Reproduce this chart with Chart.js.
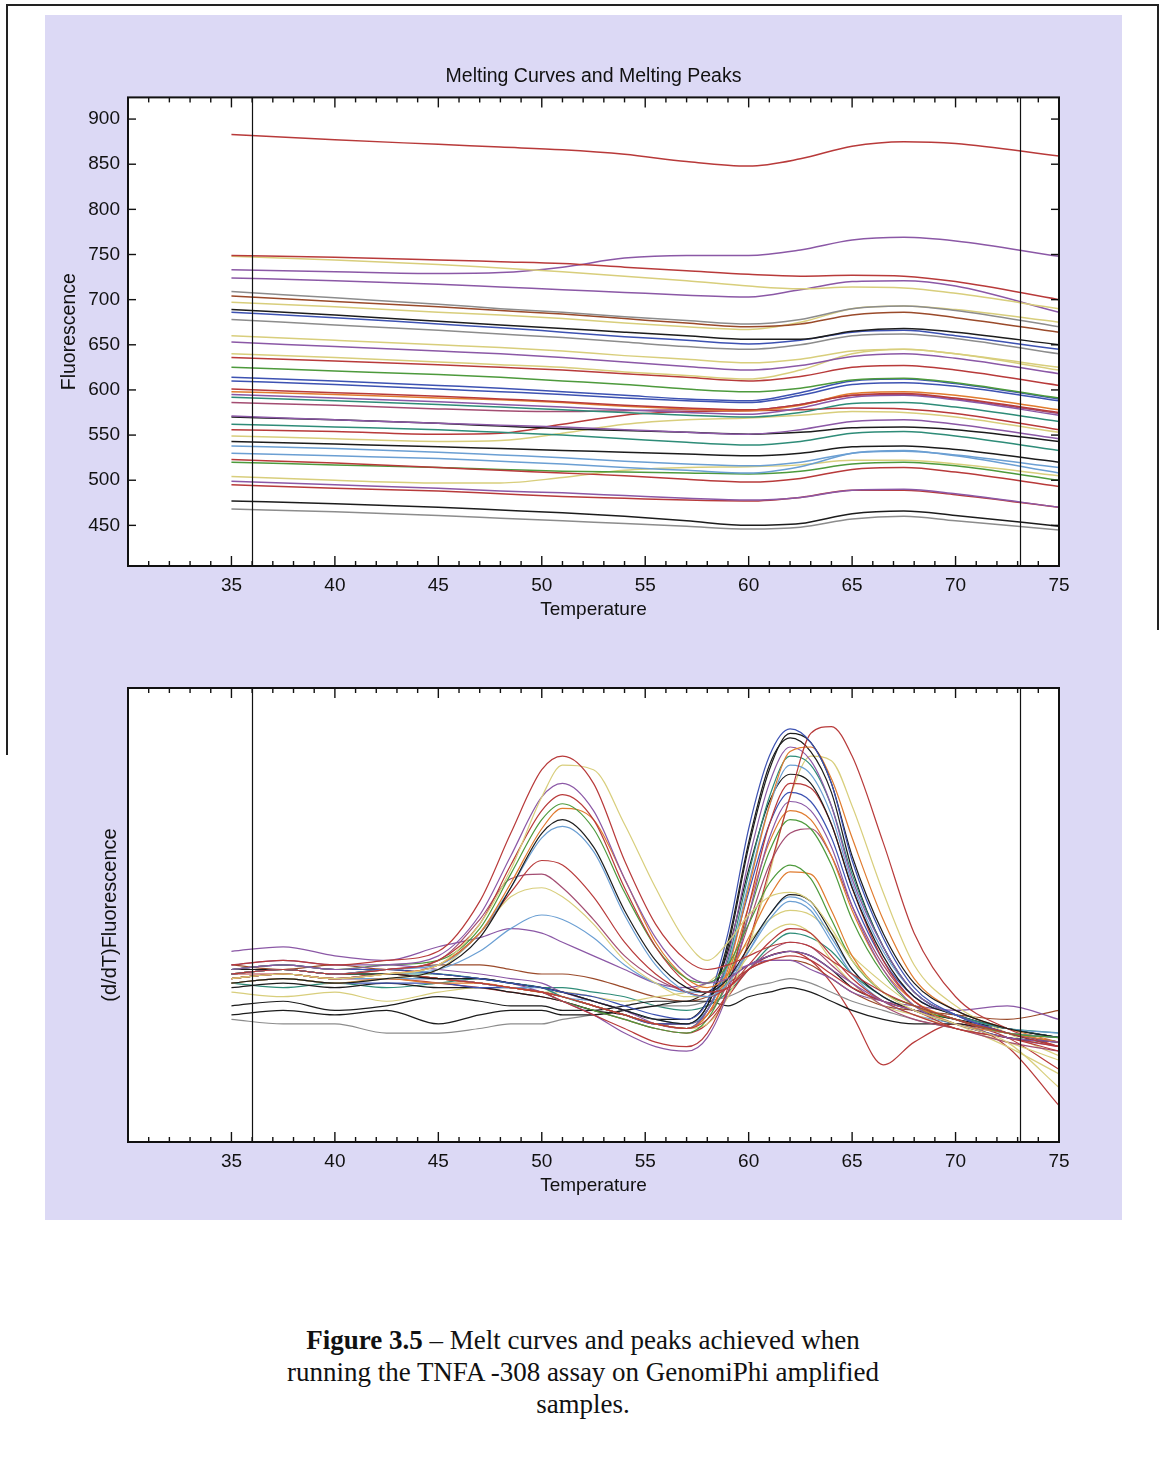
<!DOCTYPE html>
<html>
<head>
<meta charset="utf-8">
<script src="https://cdn.jsdelivr.net/npm/chart.js@4.4.1/dist/chart.umd.min.js"></script>
<style>
  html, body { margin: 0; padding: 0; background: #fff; }
  body { width: 1161px; height: 1477px; position: relative; overflow: hidden; }
  .frame-top   { position: absolute; left: 6px; top: 4px; width: 1153px; height: 2px; background: #222; }
  .frame-left  { position: absolute; left: 6px; top: 4px; width: 2px; height: 751px; background: #222; }
  .frame-right { position: absolute; left: 1157px; top: 4px; width: 2px; height: 626px; background: #222; }
  .panel { position: absolute; left: 45px; top: 15px; width: 1077px; height: 1205px; background: #dcd9f5; }
  #meltChart { position: absolute; left: 45px; top: 17px; }
  #peakChart { position: absolute; left: 45px; top: 630px; }
  .caption {
    position: absolute; left: 0; top: 1324px; width: 1166px; text-align: center;
    font-family: "Liberation Serif", "Times New Roman", serif; font-size: 27px; line-height: 32px; color: #111;
  }
</style>
</head>
<body>
<div class="frame-top"></div>
<div class="frame-left"></div>
<div class="frame-right"></div>
<div class="panel"></div>
<canvas id="meltChart" width="1077" height="613"></canvas>
<canvas id="peakChart" width="1077" height="590"></canvas>
<div class="caption"><b>Figure 3.5</b> – Melt curves and peaks achieved when<br>running the TNFA -308 assay on GenomiPhi amplified<br>samples.</div>

<script>
// ===== Data =====
const tempTicks = [35, 40, 45, 50, 55, 60, 65, 70, 75];
const fluorTicks = [450, 500, 550, 600, 650, 700, 750, 800, 850, 900];
const cursorTemps = [36, 73.1];

// melting curves: fluorescence at these temperatures
const meltTemps = [35, 40, 45, 48, 51, 54, 57, 60, 62.5, 65, 67.5, 70, 75];
const meltCurves = [
  [883, 877, 872, 869, 866, 861, 853, 848, 856, 870, 875, 873, 859],
  [749, 747, 744, 742, 740, 736, 732, 728, 726, 727, 726, 720, 700],
  [748, 744, 739, 735, 731, 726, 721, 715, 712, 714, 713, 707, 690],
  [733, 731, 729, 730, 736, 746, 749, 749, 755, 766, 769, 765, 748],
  [724, 721, 717, 714, 711, 708, 705, 703, 711, 720, 721, 715, 686],
  [709, 702, 695, 690, 686, 681, 677, 673, 678, 690, 693, 688, 670],
  [704, 698, 692, 688, 684, 679, 674, 670, 673, 683, 686, 680, 664],
  [697, 692, 686, 683, 679, 674, 670, 667, 675, 690, 693, 689, 675],
  [689, 683, 676, 672, 668, 664, 660, 656, 656, 665, 668, 664, 650],
  [686, 680, 673, 669, 664, 659, 655, 651, 655, 664, 666, 660, 645],
  [678, 672, 666, 662, 658, 653, 648, 645, 650, 660, 662, 657, 640],
  [660, 655, 650, 647, 643, 638, 634, 630, 634, 643, 645, 640, 625],
  [653, 648, 643, 640, 636, 631, 626, 622, 627, 637, 640, 635, 618],
  [640, 636, 631, 628, 625, 620, 616, 612, 622, 640, 645, 640, 622],
  [636, 632, 628, 625, 622, 618, 614, 610, 615, 625, 627, 622, 605],
  [625, 621, 617, 614, 610, 606, 601, 598, 602, 611, 613, 608, 591],
  [614, 610, 605, 602, 598, 594, 590, 588, 597, 610, 612, 607, 590],
  [610, 606, 601, 598, 595, 591, 588, 586, 594, 606, 608, 604, 588],
  [601, 597, 593, 590, 587, 583, 580, 578, 584, 594, 596, 591, 575],
  [598, 595, 591, 589, 586, 582, 579, 577, 583, 596, 598, 594, 578],
  [595, 591, 587, 584, 581, 578, 575, 573, 580, 592, 594, 589, 572],
  [592, 588, 584, 581, 578, 575, 572, 570, 575, 585, 586, 581, 565],
  [586, 583, 579, 577, 576, 577, 578, 578, 584, 594, 595, 590, 574],
  [571, 567, 563, 561, 559, 556, 553, 551, 556, 565, 567, 562, 546],
  [570, 567, 563, 560, 557, 555, 553, 551, 553, 558, 559, 556, 543],
  [562, 559, 556, 553, 550, 546, 542, 539, 543, 552, 554, 549, 533],
  [556, 554, 551, 552, 562, 572, 576, 577, 578, 580, 579, 574, 556],
  [549, 546, 543, 544, 552, 562, 567, 569, 572, 576, 575, 570, 553],
  [543, 540, 537, 535, 533, 531, 529, 527, 530, 537, 538, 534, 520],
  [538, 535, 531, 528, 525, 521, 518, 516, 520, 530, 532, 528, 514],
  [530, 527, 524, 521, 518, 514, 511, 508, 515, 530, 533, 527, 508],
  [523, 519, 514, 511, 508, 505, 501, 498, 502, 512, 514, 509, 493],
  [520, 517, 514, 512, 510, 509, 508, 507, 510, 518, 520, 516, 500],
  [504, 500, 497, 497, 503, 511, 514, 515, 517, 522, 522, 518, 505],
  [499, 495, 491, 488, 486, 483, 480, 478, 481, 489, 490, 485, 470],
  [495, 491, 488, 485, 482, 480, 478, 477, 481, 489, 489, 484, 470],
  [477, 474, 470, 467, 464, 460, 455, 450, 452, 463, 466, 461, 449],
  [468, 465, 461, 458, 455, 452, 449, 446, 448, 457, 460, 455, 445]
];

// melting peaks: -dF/dT (arbitrary units) at these temperatures
const peakTemps = [35, 37.5, 40, 42.5, 45, 47, 48.5, 50, 51, 52.5, 54, 55.5, 57, 58, 59, 60, 61, 62, 63, 64, 65, 66.5, 68, 70, 72.5, 75];
const peakCurves = [
  [3.9, 4.0, 3.9, 4.0, 4.2, 5.3, 6.8, 8.2, 8.5, 7.9, 6.2, 4.8, 4.0, 3.8, 3.9, 4.1, 4.3, 4.4, 4.3, 4.0, 3.7, 3.3, 3.0, 2.7, 2.4, 2.1],
  [3.6, 3.7, 3.6, 3.7, 3.9, 4.8, 6.0, 7.6, 8.3, 8.2, 7.0, 5.6, 4.4, 4.0, 4.4, 5.0, 5.4, 5.5, 5.3, 4.7, 4.0, 3.3, 2.9, 2.6, 2.2, 1.2],
  [3.8, 3.9, 3.8, 3.9, 4.1, 5.0, 6.3, 7.6, 7.9, 7.3, 5.8, 4.5, 3.7, 3.5, 3.6, 3.9, 4.1, 4.2, 4.1, 3.8, 3.5, 3.1, 2.9, 2.6, 2.3, 2.2],
  [3.7, 3.8, 3.7, 3.8, 4.0, 4.8, 6.1, 7.3, 7.65, 7.1, 5.6, 4.3, 3.5, 3.3, 3.4, 3.8, 4.0, 4.1, 4.0, 3.7, 3.4, 3.1, 2.9, 2.5, 2.3, 2.0],
  [3.8, 3.9, 3.8, 3.9, 4.0, 4.7, 5.9, 7.1, 7.45, 6.9, 5.5, 4.3, 3.6, 3.5, 3.9, 4.8, 5.7, 6.1, 5.8, 4.9, 4.0, 3.3, 3.0, 2.7, 2.4, 2.3],
  [3.6, 3.7, 3.6, 3.7, 3.9, 4.6, 5.7, 6.9, 7.35, 7.1, 5.8, 4.4, 3.6, 3.4, 3.7, 4.5, 5.4, 5.95, 5.9, 5.1, 4.1, 3.3, 3.0, 2.6, 2.4, 2.2],
  [3.5, 3.6, 3.5, 3.6, 3.8, 4.5, 5.6, 6.8, 7.1, 6.5, 5.1, 4.0, 3.4, 3.3, 3.6, 4.3, 5.0, 5.45, 5.3, 4.6, 3.8, 3.2, 2.9, 2.6, 2.3, 2.2],
  [3.7, 3.8, 3.7, 3.8, 3.9, 4.6, 5.6, 6.7, 6.95, 6.4, 5.0, 3.9, 3.3, 3.2, 3.5, 4.2, 5.0, 5.4, 5.2, 4.5, 3.8, 3.2, 2.9, 2.6, 2.4, 2.3],
  [3.6, 3.7, 3.6, 3.7, 3.9, 4.6, 5.5, 6.2, 6.1, 5.4, 4.4, 3.7, 3.3, 3.2, 3.4, 3.9, 4.4, 4.7, 4.6, 4.1, 3.6, 3.1, 2.8, 2.5, 2.3, 2.1],
  [3.7, 3.8, 3.7, 3.8, 4.0, 4.9, 5.8, 5.9, 5.6, 4.9, 4.1, 3.6, 3.3, 3.2, 3.4, 3.8, 4.2, 4.4, 4.3, 3.9, 3.5, 3.0, 2.7, 2.5, 2.2, 2.0],
  [3.5, 3.6, 3.5, 3.6, 3.8, 4.6, 5.4, 5.6, 5.4, 4.8, 4.0, 3.5, 3.2, 3.2, 3.5, 4.1, 4.6, 4.8, 4.6, 4.0, 3.5, 3.0, 2.8, 2.5, 2.2, 1.8],
  [3.6, 3.7, 3.6, 3.7, 3.8, 4.2, 4.7, 5.0, 4.9, 4.5, 3.9, 3.5, 3.3, 3.3, 3.6, 4.2, 4.9, 5.3, 5.1, 4.4, 3.7, 3.1, 2.8, 2.6, 2.3, 2.2],
  [3.8, 3.9, 3.8, 3.8, 3.7, 3.6, 3.5, 3.4, 3.3, 3.2, 3.0, 2.8, 2.7, 3.1, 4.6, 6.9, 8.5, 9.1, 8.8, 7.9, 6.2, 4.5, 3.4, 2.8, 2.4, 2.2],
  [3.7, 3.8, 3.7, 3.7, 3.6, 3.6, 3.5, 3.4, 3.3, 3.1, 2.9, 2.7, 2.6, 3.0, 4.3, 6.5, 8.2, 9.0, 8.8, 7.9, 6.3, 4.6, 3.5, 2.9, 2.5, 2.3],
  [3.6, 3.7, 3.6, 3.7, 3.6, 3.5, 3.4, 3.3, 3.2, 3.0, 2.8, 2.6, 2.5, 2.7, 3.3, 4.4, 6.0, 7.6, 9.0, 9.15, 8.5, 6.6, 4.6, 3.2, 2.5, 2.1],
  [3.5, 3.6, 3.5, 3.6, 3.5, 3.5, 3.4, 3.3, 3.2, 3.0, 2.8, 2.6, 2.5, 2.8, 3.8, 5.6, 7.4, 8.6, 8.7, 8.0, 6.7, 4.9, 3.6, 2.9, 2.5, 2.2],
  [3.9, 4.0, 3.9, 3.9, 3.8, 3.7, 3.6, 3.5, 3.3, 3.1, 2.9, 2.6, 2.5, 2.9, 4.1, 6.2, 7.9, 8.7, 8.4, 7.4, 5.8, 4.3, 3.3, 2.8, 2.4, 2.2],
  [3.7, 3.8, 3.7, 3.7, 3.7, 3.6, 3.5, 3.4, 3.2, 3.0, 2.8, 2.6, 2.5, 2.9, 4.0, 5.9, 7.6, 8.5, 8.3, 7.4, 5.9, 4.3, 3.3, 2.8, 2.5, 2.3],
  [3.6, 3.7, 3.6, 3.6, 3.6, 3.5, 3.4, 3.4, 3.2, 3.1, 2.9, 2.7, 2.6, 2.9, 3.9, 5.7, 7.4, 8.3, 8.1, 7.2, 5.7, 4.2, 3.3, 2.8, 2.5, 2.4],
  [3.8, 3.8, 3.7, 3.8, 3.7, 3.6, 3.5, 3.4, 3.3, 3.1, 2.9, 2.7, 2.7, 3.1, 4.2, 6.0, 7.5, 8.1, 7.9, 7.0, 5.6, 4.1, 3.2, 2.8, 2.5, 2.3],
  [3.7, 3.7, 3.6, 3.7, 3.6, 3.5, 3.4, 3.3, 3.1, 2.8, 2.5, 2.2, 2.1, 2.4, 3.4, 5.2, 7.0, 7.9, 7.8, 7.0, 5.6, 4.0, 3.1, 2.7, 2.3, 1.6],
  [3.5, 3.6, 3.5, 3.5, 3.5, 3.4, 3.4, 3.3, 3.2, 3.0, 2.8, 2.6, 2.6, 2.9, 3.9, 5.5, 7.0, 7.7, 7.5, 6.7, 5.4, 4.0, 3.2, 2.8, 2.5, 2.3],
  [3.8, 3.9, 3.8, 3.8, 3.7, 3.6, 3.5, 3.3, 3.1, 2.8, 2.4, 2.1, 2.0, 2.3, 3.3, 5.0, 6.7, 7.5, 7.3, 6.5, 5.2, 3.8, 3.0, 2.6, 2.3, 2.1],
  [3.6, 3.7, 3.6, 3.7, 3.6, 3.5, 3.4, 3.3, 3.2, 3.0, 2.8, 2.6, 2.5, 2.8, 3.7, 5.2, 6.6, 7.3, 7.1, 6.3, 5.1, 3.8, 3.1, 2.7, 2.4, 2.2],
  [3.7, 3.8, 3.7, 3.7, 3.6, 3.5, 3.4, 3.3, 3.1, 2.9, 2.7, 2.5, 2.4, 2.7, 3.6, 5.0, 6.4, 7.1, 6.9, 6.1, 4.9, 3.7, 3.0, 2.7, 2.4, 2.2],
  [3.6, 3.7, 3.6, 3.6, 3.6, 3.5, 3.4, 3.3, 3.2, 3.0, 2.8, 2.6, 2.6, 2.8, 3.5, 4.8, 6.1, 6.8, 6.9, 6.3, 5.2, 3.9, 3.1, 2.7, 2.4, 2.3],
  [3.4, 3.5, 3.4, 3.5, 3.4, 3.4, 3.3, 3.2, 3.1, 2.9, 2.8, 2.6, 2.6, 3.0, 4.4, 6.6, 8.3, 8.9, 8.6, 7.7, 6.0, 4.3, 3.3, 2.8, 2.4, 2.1],
  [3.7, 3.8, 3.7, 3.7, 3.6, 3.5, 3.4, 3.3, 3.2, 3.0, 2.8, 2.6, 2.5, 2.6, 3.2, 4.3, 5.9, 7.6, 8.5, 8.4, 7.4, 5.5, 3.9, 3.0, 2.4, 1.9],
  [4.2, 4.3, 4.1, 4.0, 4.3, 4.5, 4.7, 4.6, 4.4, 4.1, 3.8, 3.5, 3.4, 3.5, 3.7, 3.9, 4.0, 4.0, 3.8, 3.6, 3.3, 3.1, 3.0, 2.9, 3.0, 2.7],
  [2.8, 2.9, 2.8, 2.9, 2.6, 2.8, 2.9, 2.9, 2.8, 2.8, 2.9, 3.0, 3.1, 3.1, 3.0, 3.2, 3.3, 3.4, 3.3, 3.1, 2.9, 2.7, 2.6, 2.6, 2.4, 2.3],
  [2.7, 2.6, 2.6, 2.4, 2.4, 2.5, 2.6, 2.6, 2.7, 2.8, 2.9, 3.0, 3.0, 3.1, 3.2, 3.4, 3.5, 3.6, 3.5, 3.3, 3.1, 2.9, 2.7, 2.5, 2.3, 2.2],
  [3.0, 3.1, 2.9, 3.0, 3.2, 3.1, 3.0, 3.0, 2.9, 2.9, 3.0, 3.1, 3.1, 3.3, 3.6, 3.9, 4.1, 4.2, 4.1, 3.8, 3.4, 3.1, 2.9, 2.7, 2.5, 2.3],
  [3.3, 3.2, 3.3, 3.1, 3.3, 3.4, 3.4, 3.3, 3.3, 3.2, 3.1, 3.2, 3.3, 3.5, 3.9, 4.4, 4.9, 5.1, 5.0, 4.6, 4.1, 3.5, 3.0, 2.6, 2.1, 1.5],
  [3.6, 3.7, 3.6, 3.6, 3.5, 3.4, 3.3, 3.2, 3.1, 2.9, 2.7, 2.5, 2.4, 2.6, 3.2, 3.8, 4.1, 4.2, 4.0, 3.5, 2.8, 1.7, 2.2, 2.6, 2.1, 0.8],
  [3.9, 3.8, 3.9, 3.8, 3.9, 3.9, 3.8, 3.7, 3.7, 3.6, 3.4, 3.2, 3.1, 3.2, 3.5, 3.8, 4.0, 4.0, 3.9, 3.6, 3.3, 3.0, 2.9, 2.8, 2.7, 2.9],
  [3.5, 3.4, 3.5, 3.4, 3.5, 3.6, 3.5, 3.4, 3.4, 3.3, 3.2, 3.0, 2.9, 3.0, 3.3, 3.8, 4.3, 4.6, 4.5, 4.2, 3.7, 3.2, 2.9, 2.7, 2.5, 2.4]
];

// ===== Styles =====
const palette = ['#b83a3a', '#8b58a6', '#d8ce7c', '#1c1c1c', '#3d52b2', '#2e8c78',
                 '#e07b2e', '#6b9fd3', '#a34d72', '#4d9a3c', '#8c8c8c', '#9a4a2a'];
const meltColorIdx = [0, 0, 2, 1, 1, 10, 11, 2, 3, 4, 10, 2, 1, 2, 0, 9, 4, 4, 0, 6, 1, 5, 8,
                      1, 3, 5, 0, 2, 3, 7, 7, 0, 9, 2, 1, 0, 3, 10];
const peakColorIdx = [0, 2, 1, 0, 9, 6, 3, 7, 0, 8, 2, 7, 4, 3, 0, 6, 1, 5, 7, 3, 0, 4, 1, 6,
                      9, 8, 3, 2, 1, 3, 10, 3, 2, 0, 11, 5];

Chart.defaults.font.family = '"Liberation Sans", Arial, Helvetica, sans-serif';
Chart.defaults.color = '#111';

function toDatasets(temps, curves, colorIdx, width) {
  return curves.map((vals, i) => ({
    data: vals.map((v, j) => ({ x: temps[j], y: v })),
    borderColor: palette[colorIdx[i] % palette.length],
    borderWidth: width,
    pointRadius: 0,
    fill: false,
    cubicInterpolationMode: 'monotone'
  }));
}

// white plot box, cursor lines, inward ticks and box outline
const framePlugin = {
  id: 'frame',
  beforeDatasetsDraw(chart) {
    const a = chart.chartArea, ctx = chart.ctx;
    ctx.save();
    ctx.fillStyle = '#fff';
    ctx.fillRect(a.left, a.top, a.width, a.height);
    ctx.restore();
  },
  afterDatasetsDraw(chart, args, opts) {
    const { ctx, chartArea: a, scales: { x, y } } = chart;
    const seg = (x1, y1, x2, y2) => { ctx.beginPath(); ctx.moveTo(x1, y1); ctx.lineTo(x2, y2); ctx.stroke(); };
    ctx.save();
    ctx.strokeStyle = '#111';
    ctx.lineWidth = 1.2;
    cursorTemps.forEach(t => {
      const px = Math.round(x.getPixelForValue(t)) + 0.5;
      seg(px, a.top, px, a.bottom);
    });
    ctx.lineWidth = 1.4;
    for (let t = Math.floor(x.min) + 1; t < x.max; t++) {
      const px = x.getPixelForValue(t);
      const len = t % 5 === 0 ? 10 : 5;
      seg(px, a.bottom, px, a.bottom - len);
      seg(px, a.top, px, a.top + len);
    }
    if (opts.yTicks) {
      fluorTicks.forEach(v => {
        const py = y.getPixelForValue(v);
        seg(a.left, py, a.left + 8, py);
        seg(a.right, py, a.right - 8, py);
      });
    }
    ctx.lineWidth = 2;
    ctx.strokeRect(a.left, a.top, a.width, a.height);
    ctx.restore();
  }
};

const xScale = (axisHeight, titlePad) => ({
  type: 'linear', min: 30, max: 75,
  grid: { display: false, drawTicks: false },
  border: { display: false },
  afterBuildTicks: s => { s.ticks = tempTicks.map(v => ({ value: v })); },
  afterFit: s => { s.height = axisHeight; },
  ticks: { padding: 8, font: { size: 19 }, color: '#111', maxRotation: 0, autoSkip: false },
  title: { display: true, text: 'Temperature', font: { size: 19 }, color: '#111', padding: { top: 0, bottom: titlePad } }
});

// ===== Melting curves =====
new Chart(document.getElementById('meltChart'), {
  type: 'line',
  data: { datasets: toDatasets(meltTemps, meltCurves, meltColorIdx, 1.5) },
  plugins: [framePlugin],
  options: {
    responsive: false, animation: false, parsing: false,
    layout: { padding: { left: 0, right: 63, top: 0, bottom: 0 } },
    plugins: {
      legend: { display: false }, tooltip: { enabled: false },
      title: { display: true, fullSize: false, text: 'Melting Curves and Melting Peaks', color: '#111',
               font: { size: 19.5, weight: 'normal' }, padding: { top: 48, bottom: 9 } },
      frame: { yTicks: true }
    },
    scales: {
      x: xScale(64, 9),
      y: {
        min: 405, max: 924,
        grid: { display: false, drawTicks: false },
        border: { display: false },
        afterBuildTicks: s => { s.ticks = fluorTicks.map(v => ({ value: v })); },
        afterFit: s => { s.width = 83; },
        ticks: { padding: 8, font: { size: 19 }, color: '#111' },
        title: { display: true, text: 'Fluorescence', font: { size: 19.5 }, color: '#111', padding: { top: 13, bottom: 0 } }
      }
    }
  }
});

// ===== Melting peaks =====
new Chart(document.getElementById('peakChart'), {
  type: 'line',
  data: { datasets: toDatasets(peakTemps, peakCurves, peakColorIdx, 1.2) },
  plugins: [framePlugin],
  options: {
    responsive: false, animation: false, parsing: false,
    layout: { padding: { left: 0, right: 63, top: 58, bottom: 8 } },
    plugins: {
      legend: { display: false }, tooltip: { enabled: false },
      frame: { yTicks: false }
    },
    scales: {
      x: xScale(70, 15),
      y: {
        min: 0, max: 10,
        grid: { display: false, drawTicks: false },
        border: { display: false },
        afterFit: s => { s.width = 83; },
        ticks: { display: false },
        title: { display: true, text: '(d/dT)Fluorescence', font: { size: 20 }, color: '#111', padding: { top: 53, bottom: 0 } }
      }
    }
  }
});
</script>
</body>
</html>
